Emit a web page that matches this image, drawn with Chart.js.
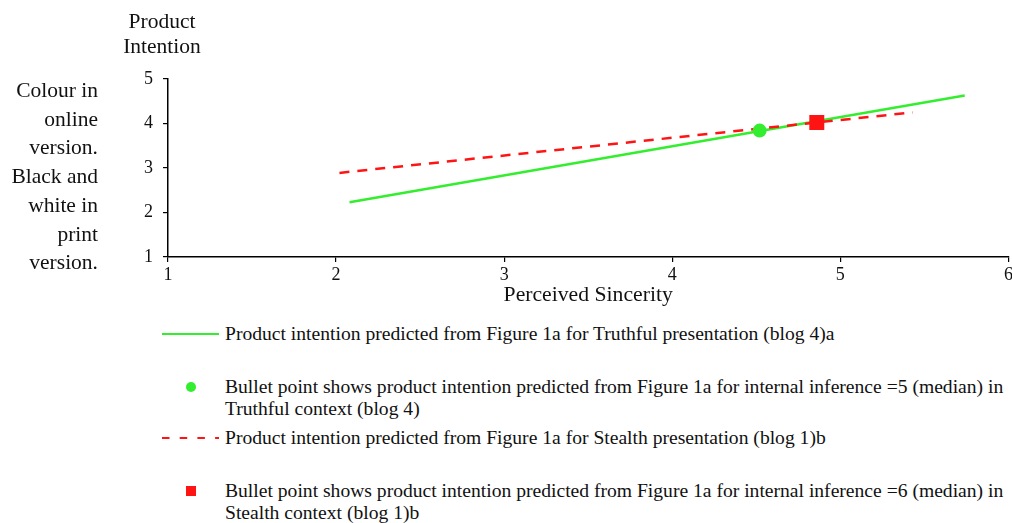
<!DOCTYPE html>
<html>
<head>
<meta charset="utf-8">
<script src="https://cdn.jsdelivr.net/npm/chart.js@4.4.1/dist/chart.umd.min.js"></script>
<style>
  html, body { margin: 0; padding: 0; background: #fff; }
  body { width: 1012px; height: 523px; position: relative; overflow: hidden;
         font-family: "Liberation Serif", "Times New Roman", serif; color: #111; }
  #wrap { position: absolute; left: 0; top: 0; width: 1019px; height: 310px; }
  .t { position: absolute; white-space: nowrap; font-size: 19.6px; line-height: 22px; }
  #note { position: absolute; right: 914px; top: 76px; text-align: right; font-size: 21.5px; line-height: 28.7px; white-space: nowrap; }
  #ytitle { position: absolute; left: 112px; width: 100px; top: 9px; text-align: center; font-size: 21.5px; line-height: 25px; white-space: nowrap; }
</style>
</head>
<body>
<div id="wrap"><canvas id="c" width="1019" height="310"></canvas></div>
<div id="ytitle">Product<br>Intention</div>
<div id="note">Colour in<br>online<br>version.<br>Black and<br>white in<br>print<br>version.</div>

<div id="legend"></div>

<script>
// ---- data ----
const xTicks = [1, 2, 3, 4, 5, 6];
const yTicks = [1, 2, 3, 4, 5];
const truthfulLineX = [2.08, 5.74];
const truthfulLineY = [2.23, 4.63];
const stealthLineX = [2.02, 5.43];
const stealthLineY = [2.89, 4.25];
const truthfulPointX = [4.52];
const truthfulPointY = [3.84];
const stealthPointX = [4.86];
const stealthPointY = [4.02];
const seriesLabels = [
  "Product intention predicted from Figure 1a for Truthful presentation (blog 4)a",
  "Bullet point shows product intention predicted from Figure 1a for internal inference =5 (median) in|Truthful context (blog 4)",
  "Product intention predicted from Figure 1a for Stealth presentation (blog 1)b",
  "Bullet point shows product intention predicted from Figure 1a for internal inference =6 (median) in|Stealth context (blog 1)b"
];
const xTitle = "Perceived Sincerity";

const GREEN = '#33ee2e';
const RED = '#ff1414';
const FONT = '"Liberation Serif", "Times New Roman", serif';

const pts = (xs, ys) => xs.map((x, i) => ({x: x, y: ys[i]}));

new Chart(document.getElementById('c'), {
  type: 'scatter',
  data: {
    datasets: [
      { label: seriesLabels[0], data: pts(truthfulLineX, truthfulLineY), showLine: true,
        borderColor: GREEN, borderWidth: 2.5, pointRadius: 0, order: 3 },
      { label: seriesLabels[2], data: pts(stealthLineX, stealthLineY), showLine: true,
        borderColor: RED, borderWidth: 2.5, borderDash: [10, 8], pointRadius: 0, order: 2 },
      { label: seriesLabels[1], data: pts(truthfulPointX, truthfulPointY), pointStyle: 'circle',
        pointRadius: 7, backgroundColor: GREEN, borderColor: GREEN, borderWidth: 0, order: 1 },
      { label: seriesLabels[3], data: pts(stealthPointX, stealthPointY), pointStyle: 'rect',
        pointRadius: 10.6, backgroundColor: RED, borderColor: RED, borderWidth: 0, order: 0 }
    ]
  },
  options: {
    responsive: false,
    animation: false,
    devicePixelRatio: 1,
    layout: { padding: { left: 108, right: 5, top: 79, bottom: 0 } },
    plugins: { legend: { display: false }, tooltip: { enabled: false } },
    scales: {
      x: {
        type: 'linear', min: xTicks[0], max: xTicks[xTicks.length - 1],
        afterBuildTicks: s => { s.ticks = xTicks.map(v => ({value: v})); },
        afterFit: s => { s.height = 53; },
        ticks: { color: '#111', font: { family: FONT, size: 18 }, padding: 2 },
        grid: { drawOnChartArea: false, drawTicks: true, tickLength: 5, color: '#000', lineWidth: 1.2 },
        border: { display: true, color: '#000', width: 1.5 },
        title: { display: true, text: xTitle, color: '#111', font: { family: FONT, size: 21.7 },
                 padding: { top: 0, bottom: 2 } }
      },
      y: {
        type: 'linear', min: yTicks[0], max: yTicks[yTicks.length - 1],
        afterBuildTicks: s => { s.ticks = yTicks.map(v => ({value: v})); },
        afterFit: s => { s.width = 60; },
        ticks: { color: '#111', font: { family: FONT, size: 18 }, padding: 10 },
        grid: { drawOnChartArea: false, drawTicks: true, tickLength: 5, color: '#000', lineWidth: 1.2 },
        border: { display: true, color: '#000', width: 1.5 }
      }
    }
  }
});

// ---- legend (HTML, built from the series labels) ----
const legend = document.getElementById('legend');
const items = [
  { kind: 'line', color: GREEN, dash: false, center: 334 },
  { kind: 'circle', color: GREEN, center: 387 },
  { kind: 'line', color: RED, dash: true, center: 438 },
  { kind: 'square', color: RED, center: 491 }
];
items.forEach((it, k) => {
  const lines = seriesLabels[k].split('|');
  const d = document.createElement('div');
  d.className = 't';
  d.style.left = '225px';
  d.style.top = (it.center - 11) + 'px';
  d.innerHTML = lines.join('<br>');
  legend.appendChild(d);
  let sym;
  if (it.kind === 'line') {
    sym = document.createElementNS('http://www.w3.org/2000/svg', 'svg');
    sym.setAttribute('width', '58'); sym.setAttribute('height', '6');
    sym.style.position = 'absolute';
    sym.style.left = '162px'; sym.style.top = (it.center - 3) + 'px';
    const ln = document.createElementNS('http://www.w3.org/2000/svg', 'line');
    ln.setAttribute('x1', '0'); ln.setAttribute('x2', '57');
    ln.setAttribute('y1', '3'); ln.setAttribute('y2', '3');
    ln.setAttribute('stroke', it.color); ln.setAttribute('stroke-width', '2');
    if (it.dash) ln.setAttribute('stroke-dasharray', '7.5 10.2');
    sym.appendChild(ln);
  } else {
    sym = document.createElement('div');
    sym.style.position = 'absolute';
    sym.style.left = '186px'; sym.style.top = (it.center - 5) + 'px';
    sym.style.width = '10px'; sym.style.height = '10px';
    if (it.kind === 'circle') sym.style.borderRadius = '50%';
    sym.style.background = it.color;
  }
  legend.appendChild(sym);
});
</script>
</body>
</html>
